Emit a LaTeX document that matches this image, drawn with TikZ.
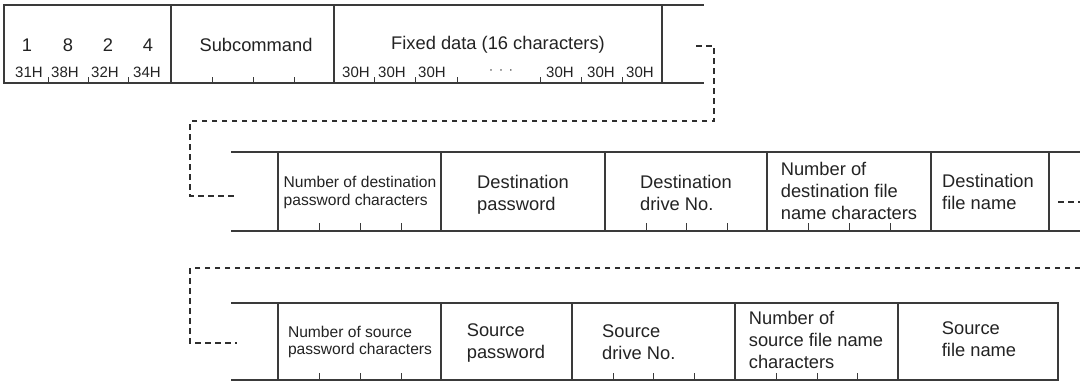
\documentclass[tikz,border=0pt]{standalone}
\usepackage{fontspec}
\setmainfont{Liberation Sans}
\definecolor{linec}{HTML}{3A3A3A}
\definecolor{dashc}{HTML}{2E2E2E}
\definecolor{txtc}{HTML}{232323}
\newcommand\myasc{\vphantom{Nd}}
\newcommand\mydesc{\vphantom{gp}}
\begin{document}
\begin{tikzpicture}[x=1pt,y=-1pt,
  boxline/.style={draw=linec, line width=1.1pt, line cap=rect},
  tickline/.style={draw=linec, line width=1pt},
  leader/.style={draw=dashc, line width=2.3pt, dash pattern=on 5.5pt off 4.5pt},
  big/.style={font=\fontsize{18.3}{22}\selectfont, text=txtc, inner sep=0pt, align=left},
  small/.style={font=\fontsize{15.6}{18}\selectfont, text=txtc, inner sep=0pt, align=left},
  hex/.style={font=\fontsize{15}{18}\selectfont, text=txtc, inner sep=0pt},
]
\useasboundingbox[fill=white] (0,0) rectangle (1080,381);

% ---------- row 1 ----------
\draw[boxline] (4,5) -- (703,5) (4,83) -- (703,83);
\foreach \x in {4,171,334,662} \draw[boxline] (\x,5) -- (\x,83);
\foreach \x in {48,88,128,212,253,294,374,415,457,540,581,622}
  \draw[tickline] (\x,77) -- (\x,83);

\node[big] (d1) at (27,45) {1};
\node[big] (d8) at (68,45) {8};
\node[big] (d2) at (108,45) {2};
\node[big] (d4) at (148,45) {4};
\node[hex] (h31) at (29,72) {31H};
\node[hex] (h38) at (65,72) {38H};
\node[hex] (h32) at (105,72) {32H};
\node[hex] (h34) at (147,72) {34H};
\node[big] (sub) at (256,45) {Subcommand};
\node[big] (fix) at (498,45) {Fixed data (16 characters)};
\node[hex] (z1) at (356,72) {30H};
\node[hex] (z2) at (392,72) {30H};
\node[hex] (z3) at (432,72) {30H};
\node[hex, text=txtc!70] (zdots) at (501,72) {·\hspace{5pt}·\hspace{5pt}·};
\node[hex] (z4) at (560,72) {30H};
\node[hex] (z5) at (601,72) {30H};
\node[hex] (z6) at (640,72) {30H};

% ---------- leader 1 ----------
\coordinate (la) at (696,46);
\coordinate (lb) at (714,46);
\coordinate (lc) at (714,121);
\coordinate (ld) at (190,121);
\coordinate (le) at (190,196);
\coordinate (lf) at (237,196);
\draw[leader] (la) -- (lb) -- (lc) -- (ld) -- (le) -- (lf);

% ---------- row 2 ----------
\draw[boxline] (232,152) -- (1080,152) (232,231) -- (1080,231);
\foreach \x in {278,441,605,767,931,1049} \draw[boxline] (\x,152) -- (\x,231);
\foreach \x in {319,360,401,646,686,727,808,849,890}
  \draw[tickline] (\x,223) -- (\x,231);

\node[small] (dpc) at (360,192.5) {\myasc Number of destination\\password characters\mydesc};
\node[big] (dpw) at (523,195) {\myasc Destination\\password\mydesc};
\node[big] (ddn) at (686,195) {\myasc Destination\\drive No.\mydesc};
\node[big] (dfc) at (849,193) {\myasc Number of\\destination file\\name characters\mydesc};
\node[big] (dfn) at (988,194) {\myasc Destination\\file name\mydesc};
\coordinate (ra) at (1058,202);
\coordinate (rb) at (1080,202);
\draw[leader] (ra) -- (rb);

% ---------- leader 2 ----------
\coordinate (ma) at (1080,268);
\coordinate (mb) at (190,268);
\coordinate (mc) at (190,343);
\coordinate (md) at (237,343);
\draw[leader] (ma) -- (mb) -- (mc) -- (md);

% ---------- row 3 ----------
\draw[boxline] (232,303) -- (1058,303) (232,380) -- (1058,380);
\foreach \x in {278,441,572,735,898,1058} \draw[boxline] (\x,303) -- (\x,380);
\foreach \x in {319,360,401,613,653,694,776,817,857}
  \draw[tickline] (\x,373) -- (\x,380);

\node[small, font=\fontsize{15.6}{17}\selectfont] (spc) at (360,341.5) {\myasc Number of source\\password characters\mydesc};
\node[big] (spw) at (506,343) {\myasc Source\\password\mydesc};
\node[big, anchor=west] (sdn) at (602,344) {\myasc Source\\drive No.\mydesc};
\node[big] (sfc) at (816,341.5) {\myasc Number of\\source file name\\characters\mydesc};
\node[big] (sfn) at (979,341) {\myasc Source\\file name\mydesc};
\end{tikzpicture}
\end{document}
